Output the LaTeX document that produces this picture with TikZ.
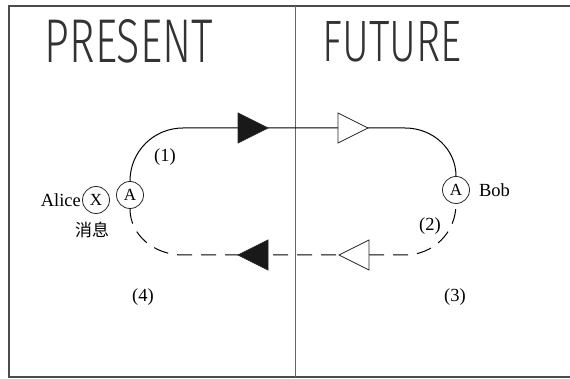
\documentclass[tikz,border=0pt]{standalone}
\usepackage{fontspec}
\setmainfont{Liberation Serif}
\newfontfamily\cjkfont{Noto Sans CJK SC}
\newfontfamily\handfont{Fira Sans Light}
\begin{document}
\begin{tikzpicture}[x=1pt,y=-1pt,
  frame/.style={draw=black!70, line width=1.1pt},
  wire/.style={line width=1pt, draw=black},
  dashwire/.style={wire, dash pattern=on 15pt off 9pt},
  circ/.style={circle, draw=black!85, line width=0.8pt, minimum size=27pt, inner sep=0pt, font=\fontsize{17}{17}\selectfont},
  lbl/.style={font=\fontsize{18.5}{18.5}\selectfont, inner sep=1pt},
  hand/.style={inner sep=0pt, text=black!80},
  tright/.pic={\path[pic actions] (-15,-15) -- (15,0) -- (-15,15) -- cycle;},
  tleft/.pic={\path[pic actions] (15,-15) -- (-15,0) -- (15,15) -- cycle;},
  solidtri/.style={draw=black!85, fill=black!90, line width=0.8pt},
  opentri/.style={draw=black!85, fill=white, line width=0.8pt}
]
\useasboundingbox (0,0) rectangle (570,379);
% frame (right edge cut off)
\draw[frame] (575,6) -- (9,6) -- (9,377) -- (575,377);
\draw[frame, draw=black!60, line width=0.9pt] (295,6) -- (295,377);

% titles
\node[hand] (present) at (129,41.5) {\resizebox{168pt}{43pt}{\handfont PRESENT}};
\node[hand] (future) at (392.5,42) {\resizebox{139pt}{40pt}{\handfont FUTURE}};

% circles
\node[circ] (A1) at (130,195) {A};
\node[circ] (X) at (96,200) {X};
\node[circ] (A2) at (456,190) {A};

% corner coordinates
\coordinate (tl) at (183,128);
\coordinate (tr) at (405,128);
\coordinate (bl) at (183,255);
\coordinate (br) at (405,255);

% paths
\draw[wire] (A1.north) .. controls +(0,-30) and +(-29,0) .. (tl) -- (tr)
  .. controls +(28,0) and +(0,-27) .. (A2.north);
\draw[dashwire] (A1.south) .. controls +(0,26) and +(-29,0) .. (bl) -- (br)
  .. controls +(28,0) and +(0,29) .. (A2.south);

% arrowheads
\pic[solidtri] at (253,128) {tright};
\pic[opentri] at (353,128) {tright};
\pic[solidtri] at (253,255) {tleft};
\pic[opentri] at (354,255) {tleft};

% labels
\node[lbl, anchor=east] (alice) at (X.west) {Alice};
\node[lbl, anchor=west] (bob) at ([xshift=8pt]A2.east) {Bob};
\node[font=\cjkfont\fontsize{17}{17}\selectfont] (msg) at (92,230) {消息};
\node[lbl] (l1) at (165,157) {(1)};
\node[lbl] (l2) at (430,226) {(2)};
\node[lbl] (l3) at (455,297) {(3)};
\node[lbl] (l4) at (143,297) {(4)};
\end{tikzpicture}
\end{document}
